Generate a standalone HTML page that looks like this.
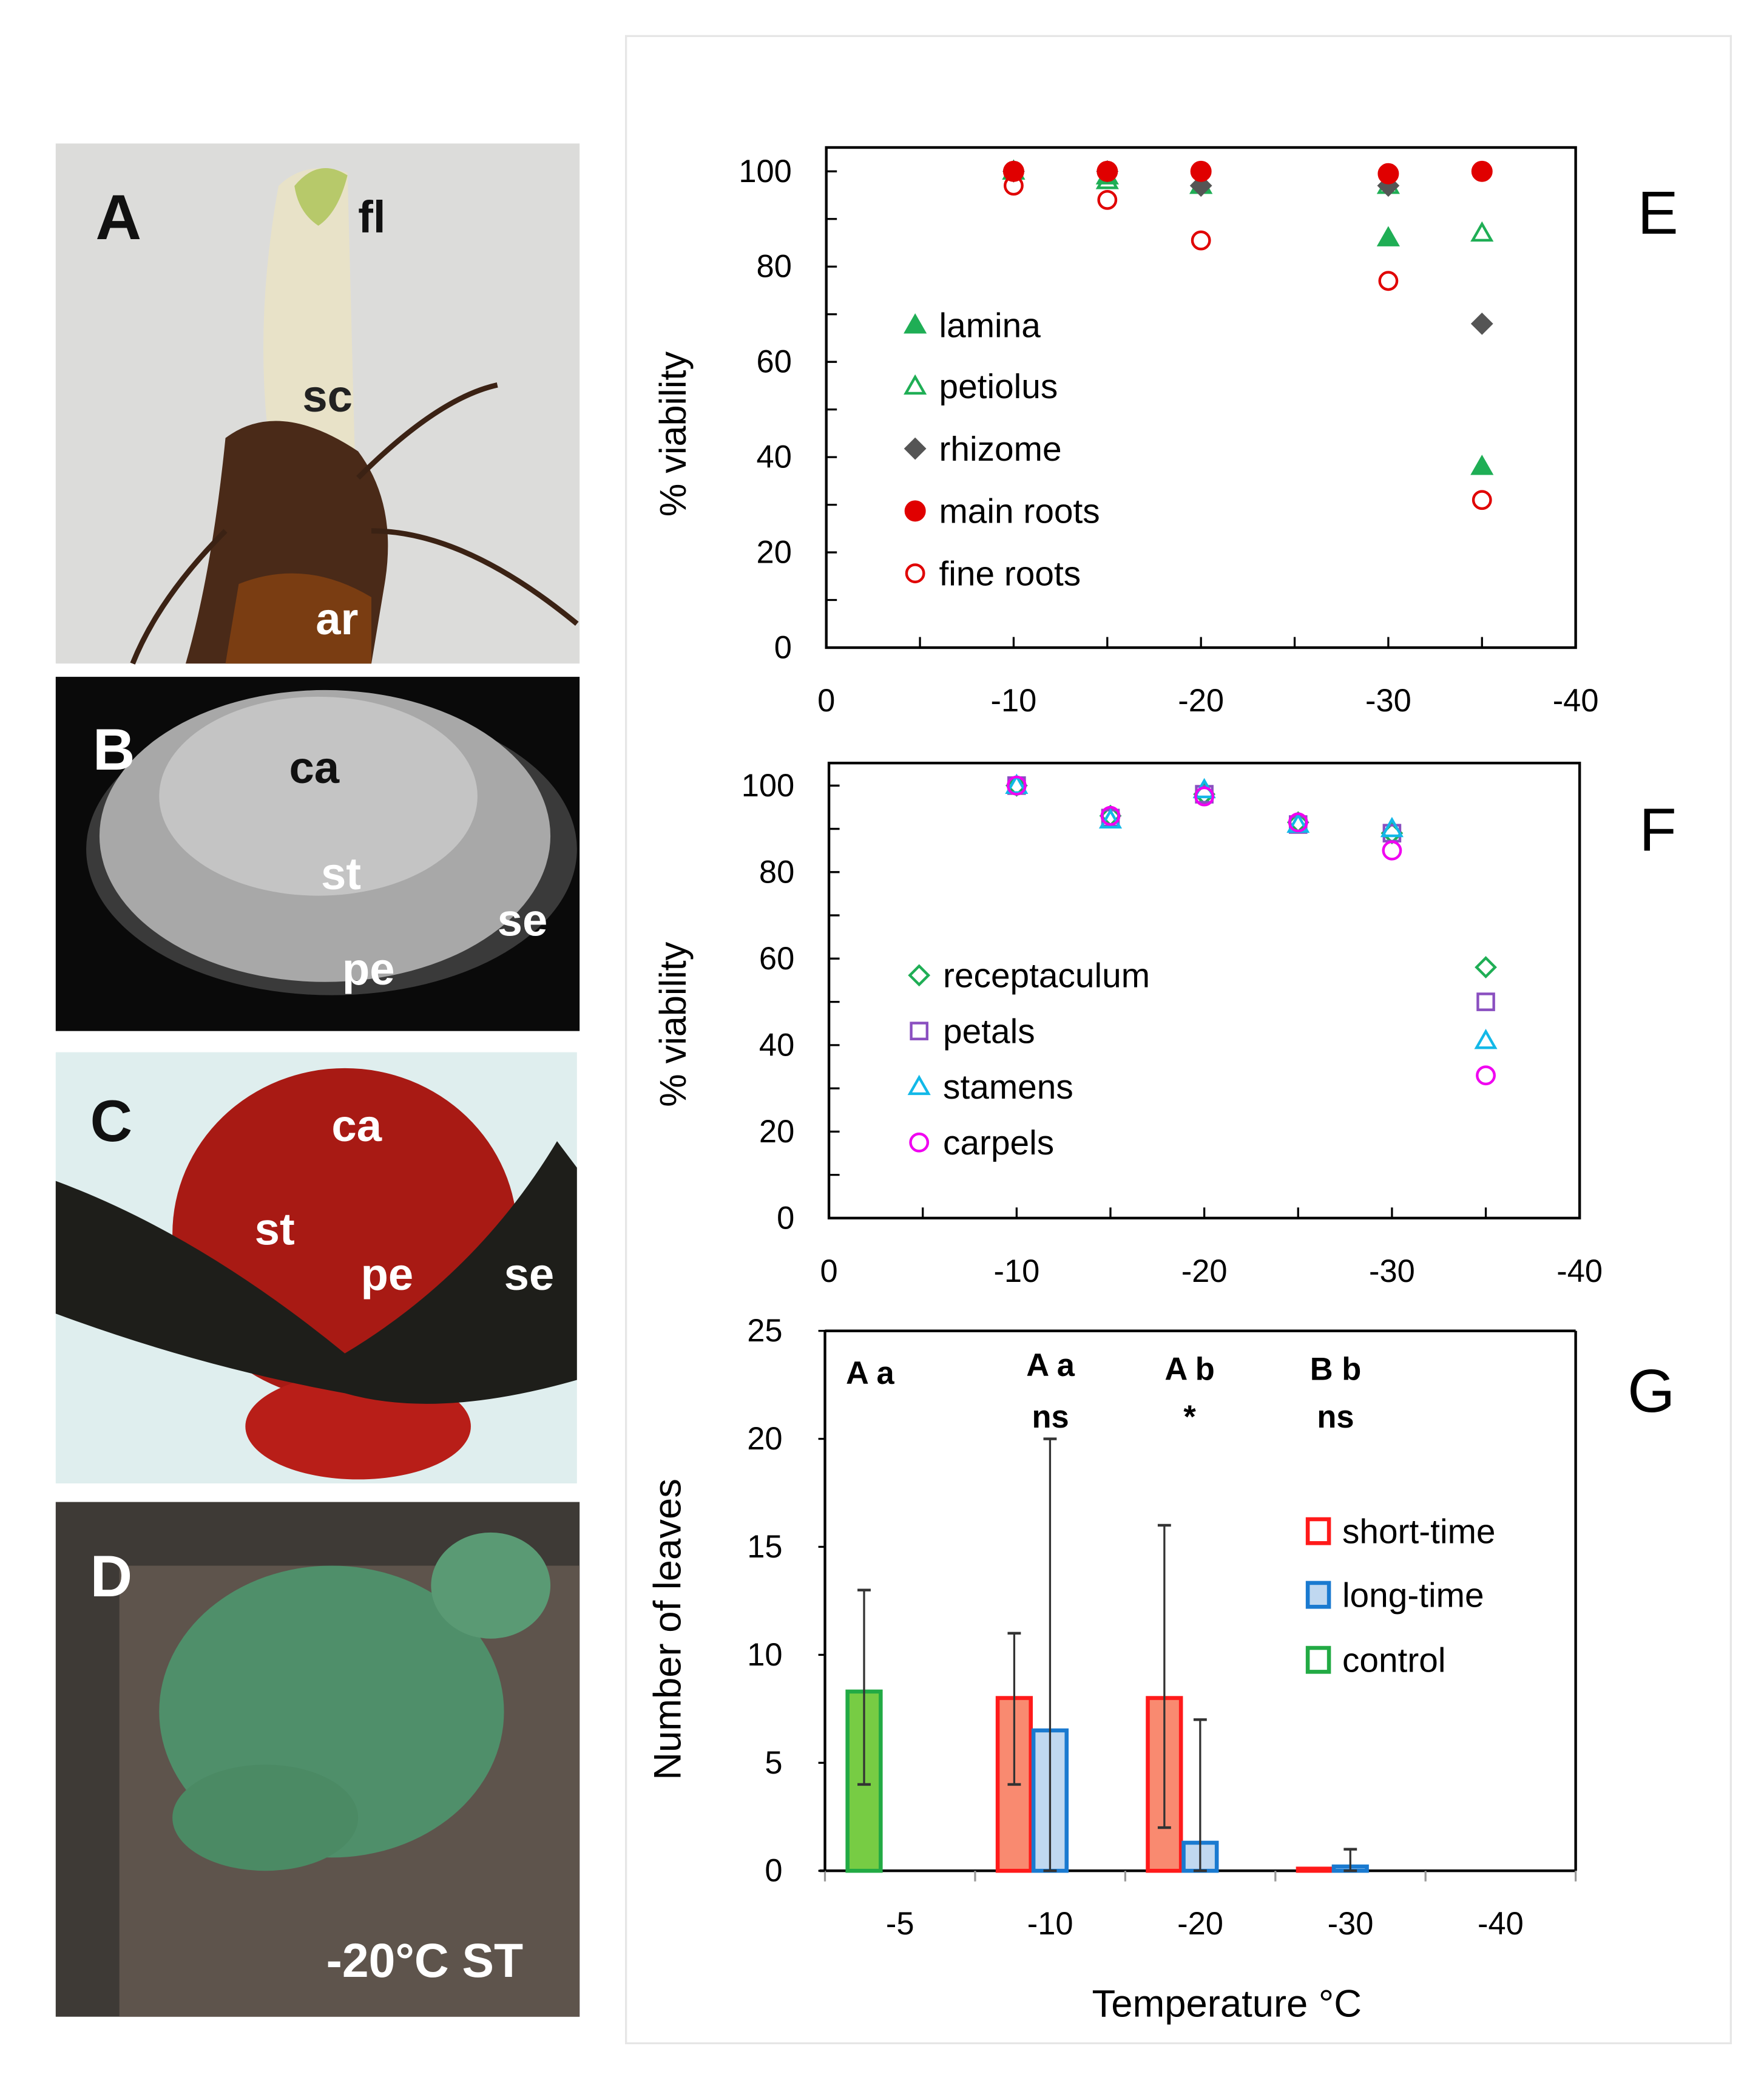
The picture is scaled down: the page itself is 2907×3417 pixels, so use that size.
<!DOCTYPE html>
<html><head><meta charset="utf-8"><style>
html,body{margin:0;padding:0;background:#fff;}
svg{display:block;font-family:"Liberation Sans",sans-serif;}
</style></head><body>
<svg id="fig" width="2907" height="3417" viewBox="0 0 1330 1563" xmlns="http://www.w3.org/2000/svg">
<rect x="0" y="0" width="1330" height="1563" fill="#fff"/>
<rect x="472" y="27" width="833" height="1513" fill="none" stroke="#e6e6e6" stroke-width="1.5"/>

<!-- Photo A -->
<g>
<rect x="42" y="108" width="395" height="392" fill="#dcdcda"/>
<path d="M210 140 Q230 120 262 130 L268 360 Q240 380 205 350 Q190 250 210 140Z" fill="#e8e2c8"/>
<path d="M222 140 Q240 118 262 132 Q255 160 240 170 Q225 160 222 140Z" fill="#b7c96a"/>
<path d="M170 330 Q210 300 270 340 Q300 380 290 440 L280 500 L140 500 Q160 430 170 330Z" fill="#4a2a18"/>
<path d="M180 440 Q230 420 280 450 L280 500 L170 500Z" fill="#7a3d12"/>
<path d="M270 360 Q330 300 375 290 M280 400 Q350 400 435 470 M170 400 Q120 450 100 500" stroke="#3b2214" stroke-width="4" fill="none"/>
<text x="72" y="180" font-size="48" font-weight="bold" fill="#111">A</text>
<text x="270" y="175" font-size="34" font-weight="bold" fill="#111">fl</text>
<text x="228" y="310" font-size="34" font-weight="bold" fill="#222">sc</text>
<text x="238" y="478" font-size="34" font-weight="bold" fill="#fff">ar</text>
</g>
<!-- Photo B -->
<g>
<rect x="42" y="510" width="395" height="267" fill="#0a0a0a"/>
<ellipse cx="250" cy="640" rx="185" ry="110" fill="#3a3a3a"/>
<ellipse cx="245" cy="630" rx="170" ry="110" fill="#a8a8a8"/>
<ellipse cx="240" cy="600" rx="120" ry="75" fill="#c4c4c4"/>
<text x="70" y="580" font-size="44" font-weight="bold" fill="#fff">B</text>
<text x="218" y="590" font-size="34" font-weight="bold" fill="#111">ca</text>
<text x="242" y="670" font-size="34" font-weight="bold" fill="#fff">st</text>
<text x="375" y="705" font-size="34" font-weight="bold" fill="#fff">se</text>
<text x="258" y="742" font-size="34" font-weight="bold" fill="#fff">pe</text>
</g>
<!-- Photo C -->
<g>
<rect x="42" y="793" width="393" height="325" fill="#dfeeee"/>
<ellipse cx="260" cy="930" rx="130" ry="125" fill="#a81a14"/>
<ellipse cx="270" cy="1075" rx="85" ry="40" fill="#b81e18"/>
<path d="M42 890 Q150 930 260 1020 Q360 960 420 860 L435 880 L435 1040 Q330 1070 260 1050 Q150 1030 42 990Z" fill="#1e1e1a"/>
<text x="68" y="860" font-size="44" font-weight="bold" fill="#111">C</text>
<text x="250" y="860" font-size="34" font-weight="bold" fill="#fff">ca</text>
<text x="192" y="938" font-size="34" font-weight="bold" fill="#fff">st</text>
<text x="272" y="972" font-size="34" font-weight="bold" fill="#fff">pe</text>
<text x="380" y="972" font-size="34" font-weight="bold" fill="#fff">se</text>
</g>
<!-- Photo D -->
<g>
<rect x="42" y="1132" width="395" height="388" fill="#3e3a36"/>
<rect x="90" y="1180" width="347" height="340" fill="#5e544c"/>
<ellipse cx="250" cy="1290" rx="130" ry="110" fill="#4f8f6a"/>
<ellipse cx="370" cy="1195" rx="45" ry="40" fill="#5a9a74"/>
<ellipse cx="200" cy="1370" rx="70" ry="40" fill="#4b8a64"/>
<text x="68" y="1203" font-size="44" font-weight="bold" fill="#fff">D</text>
<text x="246" y="1490" font-size="36" font-weight="bold" fill="#fff">-20°C ST</text>
</g>

<g id="chartE"></g>
<g id="chartF"></g>
<g id="chartG"></g>
</svg>
<script>
const NS="http://www.w3.org/2000/svg";
// Chart E data
const eTemps=[-10,-15,-20,-30,-35];
const eLamina=[100,99,97,86,38];
const ePetiolus=[100,98,97,97,87];
const eRhizome=[100,100,97,97,68];
const eMainRoots=[100,100,100,99.5,100];
const eFineRoots=[97,94,85.5,77,31];
// Chart F data
const fTemps=[-10,-15,-20,-25,-30,-35];
const fRecept=[100,93,98,91.5,89,58];
const fPetals=[100,92.5,98,91,89,50];
const fStamens=[100,92,99,91,90,41];
const fCarpels=[100,93,97.5,91.5,85,33];
const xTicks=[0,-10,-20,-30,-40];
const yTicksV=[0,20,40,60,80,100];
// Chart G data
const gCats=["-5","-10","-20","-30","-40"];
const gShort=[null,8,8,0.1,null];
const gShortErr=[null,[4,11],[2,16],null,null];
const gLong=[null,6.5,1.3,0.2,null];
const gLongErr=[null,[0,20],[0,7],[0,1],null];
const gControl=[8.3,null,null,null,null];
const gControlErr=[[4,13],null,null,null,null];
const gYTicks=[0,5,10,15,20,25];
const gLetters=["A a","A a","A b","B b"];
const gSig=["","ns","*","ns"];

function el(parent,tag,attrs,text){const e=document.createElementNS(NS,tag);for(const k in attrs)e.setAttribute(k,attrs[k]);if(text!=null)e.textContent=text;parent.appendChild(e);return e;}

function marker(g,type,cx,cy,color){
  let m;const r=7;
  if(type==="tri"||type==="otri"){
    m=el(g,"polygon",{points:`${cx},${cy-r} ${cx-r},${cy+r*0.75} ${cx+r},${cy+r*0.75}`,fill:type==="tri"?color:"none",stroke:color,"stroke-width":2});
  }else if(type==="dia"||type==="odia"){
    m=el(g,"polygon",{points:`${cx},${cy-r} ${cx+r},${cy} ${cx},${cy+r} ${cx-r},${cy}`,fill:type==="dia"?color:"none",stroke:color,"stroke-width":2});
  }else if(type==="circ"||type==="ocirc"){
    m=el(g,"circle",{cx:cx,cy:cy,r:type==="circ"?7:6.5,fill:type==="circ"?color:"none",stroke:color,"stroke-width":2});
  }else{
    m=el(g,"rect",{x:cx-6,y:cy-6,width:12,height:12,fill:"none",stroke:color,"stroke-width":2});
  }
  return m;
}

function scatter(gid,box,y100,y0,series,legendX,legendYs,ylabelY,letter,letterY){
  const g=document.getElementById(gid);
  const sx=v=>box.x0+(v/-40)*(box.x1-box.x0);
  const sy=v=>y0+(y100-y0)*v/100;
  el(g,"rect",{x:box.x0,y:box.y0,width:box.x1-box.x0,height:box.y1-box.y0,fill:"none",stroke:"#000","stroke-width":2});
  for(let t=0;t>=-40;t-=5){const l=el(g,"line",{x1:sx(t),x2:sx(t),y1:box.y1,y2:box.y1-8,stroke:"#000","stroke-width":1.5});}
  for(let v=0;v<=100;v+=10){el(g,"line",{x1:box.x0,x2:box.x0+8,y1:sy(v),y2:sy(v),stroke:"#000","stroke-width":1.5});}
  xTicks.forEach(t=>{const tx=el(g,"text",{x:sx(t),y:box.y1+48,"font-size":24,"text-anchor":"middle"},String(t));
    
    });
  yTicksV.forEach(v=>{const tx=el(g,"text",{x:box.x0-26,y:sy(v)+8,"font-size":24,"text-anchor":"end"},String(v));
    
    });
  const yl=el(g,"text",{x:0,y:0,"font-size":28,"text-anchor":"middle",transform:`translate(517,${ylabelY}) rotate(-90)`},"% viability");
  
  
  series.forEach((s,i)=>{
    s.vals.forEach((v,j)=>{const m=marker(g,s.type,sx(s.temps[j]),sy(v),s.color);
      
      });
    const lg=el(g,"g",{});
    
    
    marker(lg,s.type,legendX,legendYs[i],s.color);
    el(lg,"text",{x:legendX+18,y:legendYs[i]+9,"font-size":26},s.name);
  });
  const lt=el(g,"text",{x:1250,y:letterY,"font-size":46,"text-anchor":"middle"},letter);
  
  
}

scatter("chartE",{x0:623,x1:1188,y0:111,y1:488},129,488,[
  {name:"lamina",type:"tri",color:"#1fae55",vals:eLamina,temps:eTemps},
  {name:"petiolus",type:"otri",color:"#1fae55",vals:ePetiolus,temps:eTemps},
  {name:"rhizome",type:"dia",color:"#555",vals:eRhizome,temps:eTemps},
  {name:"main roots",type:"circ",color:"#e00000",vals:eMainRoots,temps:eTemps},
  {name:"fine roots",type:"ocirc",color:"#e00000",vals:eFineRoots,temps:eTemps}
],690,[245,291,338,385,432],327,"E",176);

scatter("chartF",{x0:625,x1:1191,y0:575,y1:918},592,918,[
  {name:"receptaculum",type:"odia",color:"#1fae55",vals:fRecept,temps:fTemps},
  {name:"petals",type:"sq",color:"#8a4fc0",vals:fPetals,temps:fTemps},
  {name:"stamens",type:"otri",color:"#12b8e8",vals:fStamens,temps:fTemps},
  {name:"carpels",type:"ocirc",color:"#f000f0",vals:fCarpels,temps:fTemps}
],693,[735,777,819,861],772,"F",641);

// Chart G
(function(){
  const g=document.getElementById("chartG");
  const X0=622,X1=1188,Y0=1003,Y1=1410;
  const cw=(X1-X0)/gCats.length;
  const sy=v=>Y1-(Y1-Y0)*v/25;
  const cx=i=>X0+cw*(i+0.5);
  el(g,"line",{x1:X0,x2:X1,y1:Y0,y2:Y0,stroke:"#000","stroke-width":2});
  el(g,"line",{x1:X1,x2:X1,y1:Y0,y2:Y1,stroke:"#000","stroke-width":2});
  el(g,"line",{x1:X0,x2:X0,y1:Y0,y2:Y1,stroke:"#000","stroke-width":2});
  el(g,"line",{x1:X0-4,x2:X1,y1:Y1,y2:Y1,stroke:"#000","stroke-width":2});
  for(let i=0;i<=gCats.length;i++)el(g,"line",{x1:X0+cw*i,x2:X0+cw*i,y1:Y1,y2:Y1+8,stroke:"#999","stroke-width":1.5});
  gYTicks.forEach(v=>{el(g,"line",{x1:X0-5,x2:X0,y1:sy(v),y2:sy(v),stroke:"#000","stroke-width":1.5});
    const t=el(g,"text",{x:X0-32,y:sy(v)+8,"font-size":24,"text-anchor":"end"},String(v));
    
    });
  gCats.forEach((c,i)=>{const t=el(g,"text",{x:cx(i),y:Y1+48,"font-size":24,"text-anchor":"middle"},c);
    
    });
  const bw=25;
  function bar(v,err,x,fill,stroke,name){
    if(v==null)return;
    const r=el(g,"rect",{x:x,y:sy(v),width:bw,height:Y1-sy(v),fill:fill,stroke:stroke,"stroke-width":3});
    
    
    if(err){const ex=x+bw/2;
      el(g,"line",{x1:ex,x2:ex,y1:sy(err[0]),y2:sy(err[1]),stroke:"#333","stroke-width":1.5});
      el(g,"line",{x1:ex-5,x2:ex+5,y1:sy(err[1]),y2:sy(err[1]),stroke:"#333","stroke-width":2});
      el(g,"line",{x1:ex-5,x2:ex+5,y1:sy(err[0]),y2:sy(err[0]),stroke:"#333","stroke-width":2});}
  }
  gCats.forEach((c,i)=>{
    bar(gControl[i],gControlErr[i],X0+cw*i+17,"#77cc44","#22aa44","bar-control");
    bar(gShort[i],gShortErr[i],X0+cw*i+130-cw*0+0-113,"#f98a70","#ff1a1a","bar-short-time");
    bar(gLong[i],gLongErr[i],X0+cw*i+157-113,"#c0d8f0","#1a7ad0","bar-long-time");
  });
  const lx=[656,792,897,1007],ly=[1043,1037,1040,1040];
  gLetters.forEach((s,i)=>{const t=el(g,"text",{x:lx[i],y:ly[i],"font-size":24,"font-weight":"bold","text-anchor":"middle"},s);
    
    
    if(gSig[i]){const t2=el(g,"text",{x:lx[i],y:1076,"font-size":24,"font-weight":"bold","text-anchor":"middle"},gSig[i]);
      
      }});
  const leg=[["short-time","#ff1a1a"],["long-time","#1a7ad0"],["control","#22aa44"]];
  const legY=[1153,1201,1250];
  leg.forEach((l,i)=>{const lg=el(g,"g",{});
    
    
    el(lg,"rect",{x:986,y:legY[i]-8,width:16,height:18,fill:i===1?"#c0d8f0":"#fff",stroke:l[1],"stroke-width":3});
    el(lg,"text",{x:1012,y:legY[i]+10,"font-size":26},l[0]);});
  const xt=el(g,"text",{x:925,y:1520,"font-size":29,"text-anchor":"middle"},"Temperature °C");
  
  
  const yt=el(g,"text",{x:0,y:0,"font-size":29,"text-anchor":"middle",transform:"translate(513,1228) rotate(-90)"},"Number of leaves");
  
  
  const lt=el(g,"text",{x:1245,y:1064,"font-size":46,"text-anchor":"middle"},"G");
  
  
})();
</script>
</body></html>
